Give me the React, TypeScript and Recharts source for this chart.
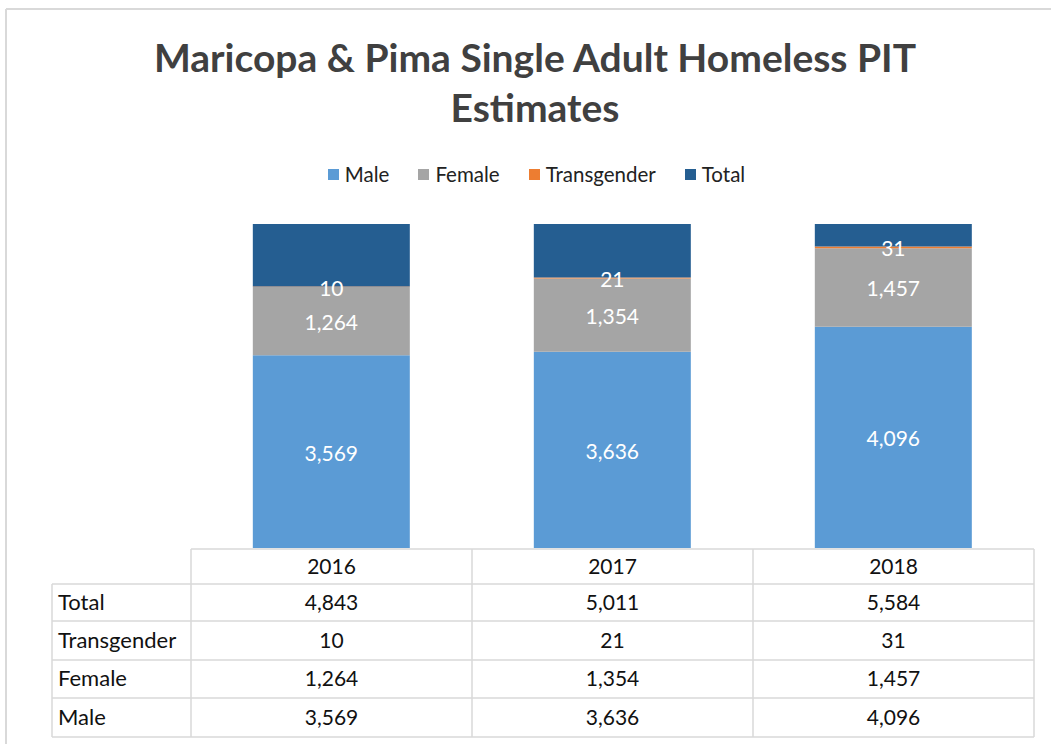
import { BarChart, Bar, XAxis, YAxis, Legend, LabelList } from 'recharts';

const years = ['2016', '2017', '2018'];
const male = [3569, 3636, 4096];
const female = [1264, 1354, 1457];
const transgender = [10, 21, 31];
const total = [4843, 5011, 5584];

const seriesOrder = ['Male', 'Female', 'Transgender', 'Total'];
const yMax = 6000;

const data = years.map((year, i) => ({
    year,
    Male: male[i],
    Female: female[i],
    Transgender: transgender[i],
    Total: total[i],
}));

const COLORS = {
    Male: '#5B9BD5',
    Female: '#A5A5A5',
    Transgender: '#ED7D31',
    Total: '#255E91',
};

const FONT = 'Lato, Carlito, "Open Sans", sans-serif';

// table layout (px in page)
const W = 1051;
const H = 744;
const plotLeft = 191;
const plotRight = 1034;
const plotTop = 224;
const plotBottom = 548;
const labelColLeft = 52;
const rowLines = [549, 584, 621, 660, 698, 737];

const tableRows = [
    { name: 'Total', values: total },
    { name: 'Transgender', values: transgender },
    { name: 'Female', values: female },
    { name: 'Male', values: male },
];

const fmt = (v: number) => v.toLocaleString('en-US');

function LegendContent({ payload }: any) {
    const items = [...(payload || [])].sort((a: any, b: any) => seriesOrder.indexOf(a.value) - seriesOrder.indexOf(b.value));
    return (
        <div style={{ display: 'flex', justifyContent: 'center', gap: 29, fontFamily: FONT, fontSize: 20.5, color: '#222' }}>
            {items.map((p: any) => (
                <div key={p.value} style={{ display: 'flex', alignItems: 'center' }}>
                    <span style={{ width: 11, height: 11, background: p.color, display: 'inline-block', marginRight: 6 }} />
                    <span>{p.value}</span>
                </div>
            ))}
        </div>
    );
}

// white value label, nudged slightly down like the original
function SegmentLabel({ x, y, width, height, value }: any) {
    return (
        <text x={x + width / 2} y={y + height / 2 + 9} textAnchor="middle" fill="#fff" fontSize={21} fontFamily={FONT}>
            {fmt(Number(value))}
        </text>
    );
}

function DataTable() {
    const colW = (plotRight - plotLeft) / years.length;
    const stroke = '#D9D9D9';
    return (
        <svg width={W} height={H} style={{ position: 'absolute', left: 0, top: 0, pointerEvents: 'none' }}>
            {/* outer frame */}
            <line x1={6} y1={9} x2={W} y2={9} stroke={stroke} strokeWidth={2} />
            <line x1={6} y1={9} x2={6} y2={H} stroke={stroke} strokeWidth={2} />
            {/* horizontal lines */}
            {rowLines.map((y, i) => (
                <line key={y} x1={i === 0 ? plotLeft : labelColLeft} y1={y} x2={plotRight} y2={y} stroke={stroke} strokeWidth={1.5} />
            ))}
            {/* vertical lines */}
            <line x1={labelColLeft} y1={rowLines[1]} x2={labelColLeft} y2={rowLines[5]} stroke={stroke} strokeWidth={1.5} />
            {[0, 1, 2, 3].map((i) => (
                <line key={i} x1={plotLeft + i * colW} y1={rowLines[0]} x2={plotLeft + i * colW} y2={rowLines[5]} stroke={stroke} strokeWidth={1.5} />
            ))}
            {/* header */}
            {years.map((y, i) => (
                <text key={y} x={plotLeft + (i + 0.5) * colW} y={(rowLines[0] + rowLines[1]) / 2 + 7} textAnchor="middle" fontFamily={FONT} fontSize={21} fill="#111">
                    {y}
                </text>
            ))}
            {tableRows.map((row, r) => {
                const cy = (rowLines[r + 1] + rowLines[r + 2]) / 2 + 7;
                return (
                    <g key={row.name}>
                        <text x={58} y={cy} fontFamily={FONT} fontSize={22} fill="#111">{row.name}</text>
                        {row.values.map((v, i) => (
                            <text key={i} x={plotLeft + (i + 0.5) * colW} y={cy} textAnchor="middle" fontFamily={FONT} fontSize={21} fill="#111">
                                {fmt(v)}
                            </text>
                        ))}
                    </g>
                );
            })}
        </svg>
    );
}

export default function App() {
    return (
        <div style={{ position: 'absolute', left: 0, top: 0, width: W, height: H, background: '#fff', overflow: 'hidden' }}>
            <div style={{ position: 'absolute', left: 0, top: 32, width: 1070, textAlign: 'center', fontFamily: FONT, fontWeight: 700, fontSize: 39, lineHeight: '50px', color: '#404040' }}>
                Maricopa &amp; Pima Single Adult Homeless PIT
                <br />
                Estimates
            </div>
            <BarChart
                width={W}
                height={H}
                data={data}
                barCategoryGap="22%"
                margin={{ top: plotTop, right: W - plotRight, bottom: H - plotBottom, left: plotLeft }}
            >
                <XAxis dataKey="year" hide />
                <YAxis hide domain={[0, yMax]} allowDataOverflow />
                <Legend
                    verticalAlign="middle"
                    content={<LegendContent />}
                    wrapperStyle={{ top: 162, left: 11, width: W }}
                />
                <Bar dataKey="Male" stackId="a" fill={COLORS.Male} isAnimationActive={false}>
                    <LabelList dataKey="Male" content={<SegmentLabel />} />
                </Bar>
                <Bar dataKey="Female" stackId="a" fill={COLORS.Female} isAnimationActive={false}>
                    <LabelList dataKey="Female" content={<SegmentLabel />} />
                </Bar>
                <Bar dataKey="Transgender" stackId="a" fill={COLORS.Transgender} isAnimationActive={false}>
                    <LabelList dataKey="Transgender" content={<SegmentLabel />} />
                </Bar>
                <Bar dataKey="Total" stackId="a" fill={COLORS.Total} isAnimationActive={false} />
            </BarChart>
            <DataTable />
        </div>
    );
}
